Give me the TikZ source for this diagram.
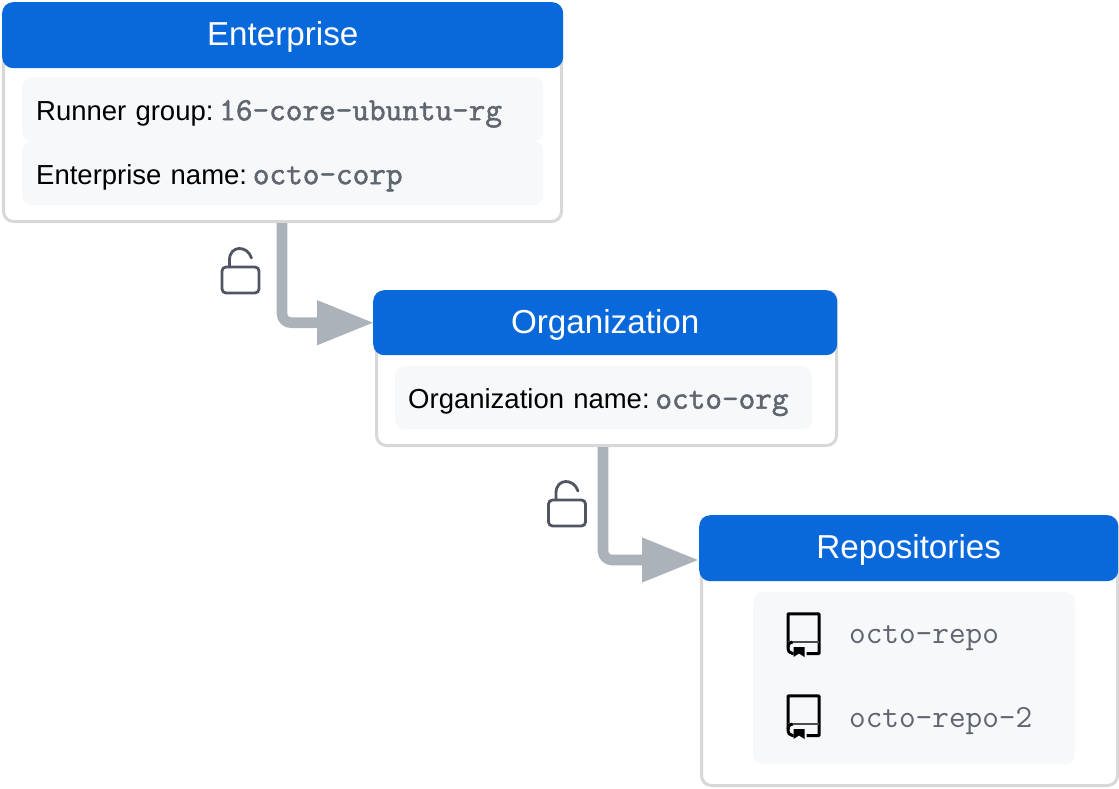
\documentclass[tikz,border=0pt]{standalone}
\usepackage{fontspec}
\setmainfont{Liberation Sans}
\newfontfamily\codefont{Latin Modern Mono}
\newfontfamily\codefontb[FakeBold=1.6]{Latin Modern Mono}
\usetikzlibrary{arrows.meta}
\definecolor{ghblue}{HTML}{0969DA}
\definecolor{ghborder}{HTML}{D8D8D8}
\definecolor{ghrow}{HTML}{F6F8FA}
\definecolor{ghcode}{HTML}{5F6670}
\definecolor{ghline}{HTML}{ABB2BA}
\definecolor{ghlock}{HTML}{4F5563}
\newcommand{\code}[1]{\hspace*{-8pt}{\fontsize{32.3}{32}\codefontb\textcolor{ghcode}{#1}}}

\begin{document}
\begin{tikzpicture}[x=1pt,y=-1pt]
\tikzstyle{card} = [rectangle, draw=ghborder, line width=3pt, fill=white,
anchor=north west, rounded corners=10pt, inner sep=0pt]
\tikzstyle{header} = [rectangle, fill=ghblue, text=white, anchor=north west,
rounded corners=11pt, inner sep=0pt, text height=29pt, text depth=8pt,
font=\fontsize{33.2}{36}\selectfont]
\tikzstyle{row} = [rectangle, fill=ghrow, anchor=north west, rounded corners=10pt,
inner sep=0pt, align=left, text height=29pt, text depth=7pt,
font=\fontsize{27.5}{32}\selectfont]
\tikzstyle{repo} = [anchor=west, inner sep=0pt, text=ghcode, font=\fontsize{32.3}{32}\codefont]
\tikzstyle{line} = [draw=ghline, line width=10.6pt, rounded corners=9pt, shorten >=-1pt,
-{Triangle[length=57pt,width=42pt]}]
\tikzset{
  lock/.pic={
    \draw[ghlock, line width=2.8pt, rounded corners=4pt] (-18.5,-13) rectangle (18.5,13);
    \draw[ghlock, line width=2.8pt, line cap=round] (-11,-13) -- (-11,-20)
      .. controls (-11,-35) and (7,-35) .. (11,-22);
  },
  book/.pic={
    \draw[black, line width=3pt, line join=round] (-10,19.5) -- (-11,19.5)
      .. controls (-14,19.5) and (-15.5,17) .. (-15.5,13) -- (-15.5,-20.2) -- (15.5,-20.2) -- (15.5,19.5) -- (3,19.5);
    \draw[black!70, line width=2pt] (-15.5,8) -- (15.5,8);
    \draw[black, line width=3pt] (-15.5,13) .. controls (-15.5,10) and (-14,8) .. (-11,8);
    \fill[black] (-10,13) -- (1,13) -- (1,23) -- (-4.5,19.5) -- (-10,23) -- cycle;
  }
}

\useasboundingbox (0,0) rectangle (1119,788);

% enterprise
\node [card, minimum width=558pt, minimum height=218pt] (entcard) at (2,2) {};
\node [header, minimum width=561pt, minimum height=66pt] (enterprise) at (2,2) {Enterprise};
\node [row, minimum width=521pt, minimum height=64pt, text width=521pt] (runner) at (22,77)
  {\hspace*{14pt}Runner group: \code{16-core-ubuntu-rg}};
\node [row, minimum width=521pt, minimum height=64pt, text width=521pt] (entname) at (22,141)
  {\hspace*{14pt}Enterprise name: \code{octo-corp}};

% organization
\node [card, minimum width=460pt, minimum height=154pt] (orgcard) at (375,290) {};
\node [header, minimum width=464pt, minimum height=65pt] (organization) at (373,290) {Organization};
\node [row, minimum width=417pt, minimum height=63pt, text width=417pt] (orgname) at (395,366)
  {\hspace*{13pt}Organization name: \code{octo-org}};

% repositories
\node [card, minimum width=416pt, minimum height=269pt] (repocard) at (700,515) {};
\node [header, minimum width=419pt, minimum height=66pt] (repositories) at (699,515) {Repositories};
\node [rectangle, fill=ghrow, anchor=north west, rounded corners=10pt, inner sep=0pt,
  minimum width=322pt, minimum height=172pt] (repolist) at (753,592) {};
\pic at (803.5,634) {book};
\pic at (803.5,716) {book};
\node [repo] (repoa) at (849,638.5) {octo-repo};
\node [repo] (repob) at (849,721.5) {octo-repo-2};

% connectors
\coordinate (repoin) at (698,560);
\path [line] (entcard.south) ++(-0.5,0) |- (organization.west);
\path [line] (orgcard.south) ++(-3.5,0) |- (repoin);
\pic at (240.5,280) {lock};
\pic at (567,513) {lock};
\end{tikzpicture}
\end{document}
